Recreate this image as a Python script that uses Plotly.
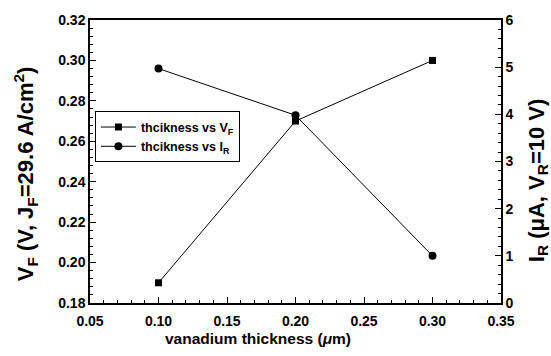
import plotly.graph_objects as go

thickness = [0.10, 0.20, 0.30]
vf_values = [0.19, 0.27, 0.30]
ir_values = [4.97, 3.98, 1.0]

x_title = "vanadium thickness (<i>μ</i>m)"
y_title = "V<sub>F</sub> (V, J<sub>F</sub>=29.6 A/cm<sup>2</sup>)"
y2_title = "I<sub>R</sub> (μA, V<sub>R</sub>=10 V)"

FONT = "Liberation Sans, Arial, sans-serif"

fig = go.Figure()
fig.add_trace(go.Scatter(
    x=thickness, y=vf_values, mode="lines+markers",
    name="thcikness vs V<sub>F</sub>",
    line=dict(color="black", width=1),
    marker=dict(symbol="square", size=7, color="black"),
    yaxis="y"))
fig.add_trace(go.Scatter(
    x=thickness, y=ir_values, mode="lines+markers",
    name="thcikness vs I<sub>R</sub>",
    line=dict(color="black", width=1),
    marker=dict(symbol="circle", size=8, color="black"),
    yaxis="y2"))

axis_common = dict(
    showgrid=False, zeroline=False, showline=True, linecolor="black", linewidth=1.5,
    ticks="inside", ticklen=6, tickcolor="black", tickwidth=1,
    tickfont=dict(family=FONT, size=14, color="black", weight="bold"),
)

def title_font(size):
    return dict(family=FONT, size=size, color="black", weight="bold")

fig.update_layout(
    width=551, height=356,
    margin=dict(l=90, r=50, t=15, b=53),
    paper_bgcolor="white", plot_bgcolor="white",
    font=dict(family=FONT, color="black"),
    showlegend=True,
    legend=dict(
        x=0.012, y=0.677, xanchor="left", yanchor="top",
        bordercolor="black", borderwidth=1, bgcolor="white",
        font=dict(family=FONT, size=12.5, color="black", weight="bold"),
        tracegroupgap=2, itemwidth=35,
    ),
    xaxis=dict(
        range=[0.05, 0.35], dtick=0.05, tickformat=".2f", mirror=True,
        ticklabelstandoff=4,
        minor=dict(dtick=0.01, ticks="inside", ticklen=3, tickcolor="black"),
        **axis_common),
    yaxis=dict(
        range=[0.18, 0.32], dtick=0.02, tickformat=".2f",
        minor=dict(dtick=0.004, ticks="inside", ticklen=3, tickcolor="black"),
        **axis_common),
    yaxis2=dict(
        range=[0, 6], dtick=1, overlaying="y", side="right",
        minor=dict(dtick=0.2, ticks="inside", ticklen=3, tickcolor="black"),
        **axis_common),
    annotations=[
        dict(text=x_title, xref="paper", yref="paper", x=0.409, y=-0.125,
             xanchor="center", yanchor="middle", showarrow=False, font=title_font(15.5)),
        dict(text=y_title, xref="paper", yref="paper", x=-0.158, y=0.455,
             xanchor="center", yanchor="middle", textangle=-90, showarrow=False,
             font=title_font(22)),
        dict(text=y2_title, xref="paper", yref="paper", x=1.090, y=0.434,
             xanchor="center", yanchor="middle", textangle=-90, showarrow=False,
             font=title_font(22)),
    ],
)

fig.write_html("out.html")
